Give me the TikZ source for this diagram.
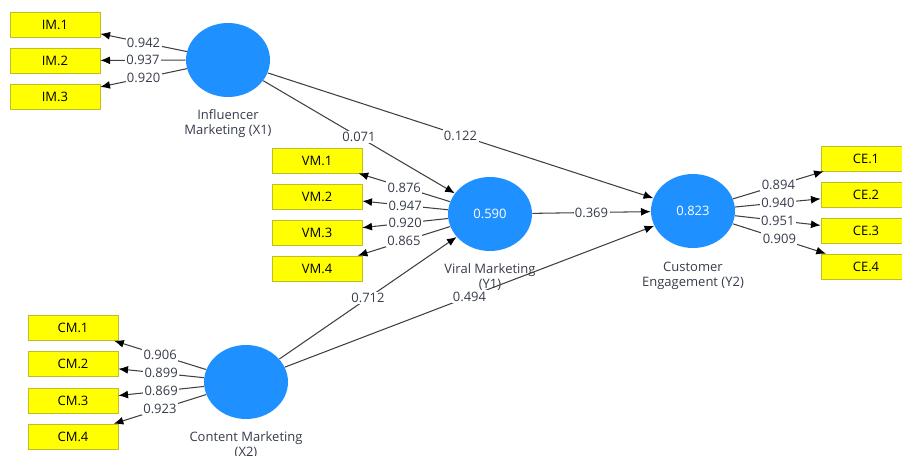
\documentclass[tikz,border=0pt]{standalone}
\usepackage{fontspec}
\setmainfont{Open Sans}
\usetikzlibrary{positioning, arrows.meta, shapes.geometric}

\definecolor{lvblue}{RGB}{30,144,255}
\definecolor{indyellow}{RGB}{255,255,0}
\definecolor{indborder}{RGB}{190,190,40}
\definecolor{pathgray}{RGB}{64,64,64}
\definecolor{labelgray}{RGB}{55,60,75}

\begin{document}
\begin{tikzpicture}[x=0.02cm, y=-0.02cm, font=\fontsize{7.4}{8.6}\selectfont,
			lv/.style={ellipse, fill=lvblue, text=white, inner sep=0pt,
				minimum width=1.68cm, minimum height=1.48cm},
			ind/.style={rectangle, fill=indyellow, draw=indborder, inner sep=0pt,
				minimum width=1.8cm, minimum height=0.5cm},
			arr/.style={draw=pathgray, line width=0.6pt,
				-{Latex[length=5.5pt, width=4.5pt, color=black]}},
			val/.style={fill=white, inner sep=0.8pt, text=labelgray},
			lvname/.style={align=center, text=labelgray}]
			\useasboundingbox (0,0) rectangle (902,456);
			
			% latent variables
			\node[lv] (x1) at (228,60) {};
			\node[lv] (x2) at (246,382) {};
			\node[lv] (y1) at (490,214) {0.590};
			\node[lv] (y2) at (693,211) {0.823};
			
			\node[lvname] (x1name) at (228,124) {Influencer\\Marketing (X1)};
			\node[lvname] (x2name) at (246,445) {Content Marketing\\(X2)};
			\node[lvname] (y1name) at (490,277) {Viral Marketing\\(Y1)};
			\node[lvname] (y2name) at (693,275.5) {Customer\\Engagement (Y2)};
			
			% indicators with loadings
			\foreach \i/\v in {1/0.942, 2/0.937, 3/0.920} {
				\node[ind] (im\i) at (55,{24.5+36*(\i-1)}) {IM.\i};
				\draw[arr] (x1) -- node[val] {\v} (im\i);
			};
			\foreach \i/\v in {1/0.876, 2/0.947, 3/0.920, 4/0.865} {
				\node[ind] (vm\i) at (317,{160.5+36*(\i-1)}) {VM.\i};
				\draw[arr] (y1) -- node[val] {\v} (vm\i);
			};
			\foreach \i/\v in {1/0.906, 2/0.899, 3/0.869, 4/0.923} {
				\node[ind] (cm\i) at (73,{328+36.2*(\i-1)}) {CM.\i};
				\draw[arr] (x2) -- node[val] {\v} (cm\i);
			};
			\foreach \i/\v in {1/0.894, 2/0.940, 3/0.951, 4/0.909} {
				\node[ind] (ce\i) at (866,{158.5+36*(\i-1)}) {CE.\i};
				\draw[arr] (y2) -- node[val] {\v} (ce\i);
			};
			
			% path coefficients
			\draw[arr] (x1) -- node[val] {0.071} (y1);
			\draw[arr] (x1) -- node[val] {0.122} (y2);
			\draw[arr] (y1) -- node[val] {0.369} (y2);
			\draw[arr] (x2) -- node[val] {0.712} (y1);
			\draw[arr] (x2) -- node[val] {0.494} (y2);
		\end{tikzpicture}
\end{document}
